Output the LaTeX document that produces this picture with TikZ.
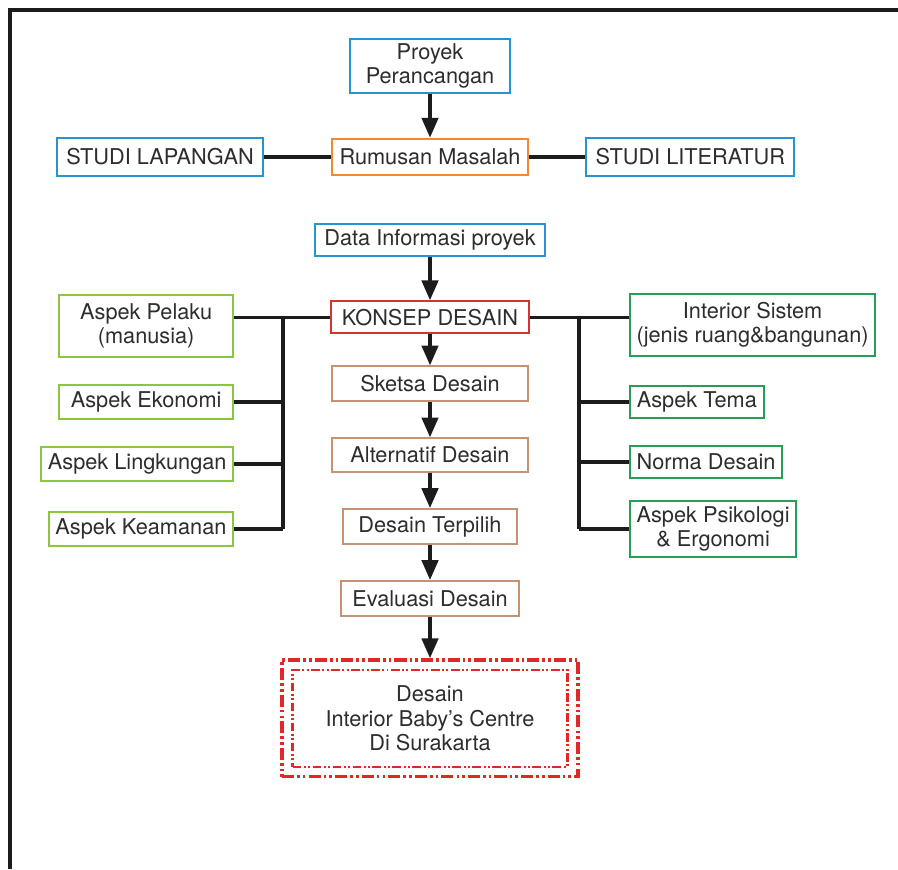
\documentclass[tikz,border=0pt]{standalone}
\usepackage{fontspec}
\setmainfont{TeX Gyre Heros}
\usetikzlibrary{arrows.meta,positioning}

\definecolor{boxblue}{RGB}{38,148,208}
\definecolor{boxorange}{RGB}{238,138,52}
\definecolor{boxred}{RGB}{218,48,48}
\definecolor{boxlime}{RGB}{140,198,63}
\definecolor{boxgreen}{RGB}{38,158,88}
\definecolor{boxtan}{RGB}{196,146,116}
\definecolor{finalred}{RGB}{225,40,40}
\definecolor{textgray}{RGB}{45,45,45}
\definecolor{linegray}{RGB}{28,28,28}

\begin{document}
\begin{tikzpicture}[
      x=0.016cm, y=-0.016cm,
      mybox/.style={
         draw,
         line width=0.9pt,
         fill=white,
         text=textgray,
         align=center,
         inner xsep=3pt,
         inner ysep=1pt,
         font=\fontsize{9.9}{11}\selectfont},
      bluebox/.style={mybox, draw=boxblue},
      orangebox/.style={mybox, draw=boxorange},
      redbox/.style={mybox, draw=boxred},
      limebox/.style={mybox, draw=boxlime},
      greenbox/.style={mybox, draw=boxgreen},
      tanbox/.style={mybox, draw=boxtan},
      finalout/.style={
         draw=finalred,
         line width=1.6pt,
         dash pattern=on 5.5pt off 1.4pt on 1.2pt off 1.4pt on 1.2pt off 1.4pt,
         minimum width=4.74cm,
         minimum height=1.87cm,
         inner sep=0pt},
      finalin/.style={
         mybox,
         draw=finalred,
         line width=1pt,
         dash pattern=on 4pt off 1.1pt on 0.9pt off 1.1pt on 0.9pt off 1.1pt,
         minimum width=4.40cm,
         minimum height=1.55cm},
      myarrow/.style={-{Triangle[length=9pt,width=7.5pt]}, line width=1.4pt, draw=linegray},
      myline/.style={line width=1.4pt, draw=linegray},
      node distance=0.56cm
      ]
      \useasboundingbox (0,0) rectangle (898,869);
      \draw[line width=1.8pt, draw=linegray] (10,869) -- (10,10) -- (898,10);

      % centre column
      \node[bluebox, minimum width=2.56cm, minimum height=0.86cm] (proyek) at (430,66) {Proyek\\Perancangan};
      \node[orangebox, minimum width=3.14cm, minimum height=0.59cm, below=0.7cm of proyek] (rumusan) {Rumusan Masalah};
      \node[bluebox, minimum width=3.30cm, minimum height=0.61cm, left=1.07cm of rumusan] (lapangan) {STUDI LAPANGAN};
      \node[bluebox, minimum width=3.33cm, minimum height=0.61cm, right=0.9cm of rumusan] (literatur) {STUDI LITERATUR};
      \node[bluebox, minimum width=3.68cm, minimum height=0.51cm, below=0.75cm of rumusan] (data) {Data Informasi proyek};
      \node[redbox, minimum width=3.17cm, minimum height=0.51cm, below=0.69cm of data] (konsep) {KONSEP DESAIN};
      \node[tanbox, minimum width=3.14cm, minimum height=0.56cm, below=0.5cm of konsep] (sketsa) {Sketsa Desain};
      \node[tanbox, minimum width=3.14cm, minimum height=0.54cm, below=of sketsa] (alternatif) {Alternatif Desain};
      \node[tanbox, minimum width=2.77cm, minimum height=0.56cm, below=of alternatif] (terpilih) {Desain Terpilih};
      \node[tanbox, minimum width=2.86cm, minimum height=0.56cm, below=of terpilih] (evaluasi) {Evaluasi Desain};
      \node[finalout, below=0.66cm of evaluasi] (finalout) {};
      \node[finalin] (final) at (finalout) {Desain\\Interior Baby's Centre\\Di Surakarta};

      % left aspects
      \node[limebox, anchor=east, minimum width=2.78cm, minimum height=0.98cm] (pelaku) at (234,326) {Aspek Pelaku\\(manusia)};
      \node[limebox, anchor=east, minimum width=2.78cm, minimum height=0.53cm] (ekonomi) at (234,402) {Aspek Ekonomi};
      \node[limebox, anchor=east, minimum width=3.04cm, minimum height=0.53cm] (lingkungan) at (234,464) {Aspek Lingkungan};
      \node[limebox, anchor=east, minimum width=2.91cm, minimum height=0.54cm] (keamanan) at (234,529) {Aspek Keamanan};

      % right aspects
      \node[greenbox, anchor=west, minimum width=3.92cm, minimum height=0.98cm] (interior) at (629,325) {Interior Sistem\\(jenis ruang\&bangunan)};
      \node[greenbox, anchor=west, minimum width=2.14cm, minimum height=0.50cm] (tema) at (629,402) {Aspek Tema};
      \node[greenbox, anchor=west, minimum width=2.32cm, minimum height=0.50cm] (norma) at (629,462) {Norma Desain};
      \node[greenbox, anchor=west, minimum width=2.59cm, minimum height=0.90cm] (psikologi) at (629,529) {Aspek Psikologi\\\& Ergonomi};

      \coordinate (lbus) at (283,317);
      \coordinate (rbus) at (579,317);

      \draw[myline] (lapangan) -- (rumusan) -- (literatur);
      \draw[myline] (konsep.west) -- (konsep.west -| pelaku.east);
      \draw[myline] (lbus) -- (lbus |- keamanan.east);
      \draw[myline] (konsep.east) -- (konsep.east -| interior.west);
      \draw[myline] (rbus) -- (rbus |- psikologi.west);

      \foreach \n in {ekonomi,lingkungan,keamanan}
         \draw[myline] (\n.east) -- (\n.east -| lbus);
      \foreach \n in {tema,norma,psikologi}
         \draw[myline] (\n.west) -- (\n.west -| rbus);

      \foreach \i/\j in {% start node/end node
         proyek/rumusan,
         data/konsep,
         konsep/sketsa,
         sketsa/alternatif,
         alternatif/terpilih,
         terpilih/evaluasi,
         evaluasi/finalout}
         \draw[myarrow] (\i) -- (\j);
\end{tikzpicture}
\end{document}
